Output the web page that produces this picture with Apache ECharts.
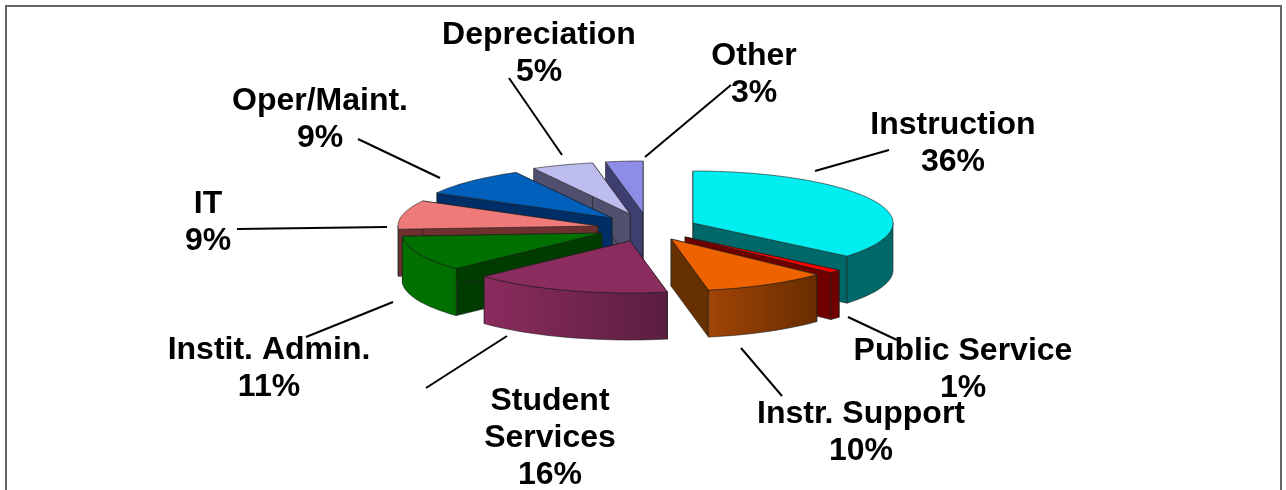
<!DOCTYPE html>
<html>
<head>
<meta charset="utf-8">
<title>Expense pie</title>
<script src="https://cdn.jsdelivr.net/npm/echarts@6/dist/echarts.min.js"></script>
<style>
  html, body { margin: 0; padding: 0; background: #fff; }
  #chart { width: 1286px; height: 490px; }
</style>
</head>
<body>
<div id="chart"></div>
<script>
const categories = ['Instruction', 'Public Service', 'Instr. Support', 'Student\nServices', 'Instit. Admin.', 'IT', 'Oper/Maint.', 'Depreciation', 'Other']
const shares = [36, 1, 10, 16, 11, 9, 9, 5, 3]

// where each exploded slice has its tip, back slices get painted first
const sliceTips = [[693, 223], [685, 237], [671, 239], [630, 241], [602, 233], [598, 226], [612, 218], [630, 214], [643, 213]]
const drawOrder = [8, 7, 6, 5, 4, 3, 0, 1, 2]

const topColors = ['#00eef0', '#ff0000', '#ee6300', '#8b2c5e', '#007000', '#ef7a7a', '#0060bb', '#bcbcee', '#8d8de8']
const wallColors = ['#006868', '#700000', '#663000', '#5a1e40', '#003c00', '#6f3030', '#002e66', '#50506e', '#3e3e70']
const rimColors = [
  ['#006868', '#006868'], ['#700000', '#700000'], ['#a04506', '#682c00'], ['#8b2c5e', '#5a1e40'],
  ['#007000', '#007000'], ['#6f3030', '#6f3030'], ['#002e66', '#002e66'], ['#50506e', '#50506e'], ['#3e3e70', '#3e3e70']
]

// centre of each label block, then the leader line next to it
const labelCenters = [[953, 144], [963, 370], [861, 433], [550, 438], [269, 369], [208, 223], [320, 120], [539, 54], [754, 75]]
const leaderLines = [
  [815, 171, 889, 150], [848, 317, 897, 340], [741, 348, 782, 396],
  [507, 336, 426, 388], [393, 302, 306, 337], [387, 227, 237, 229],
  [440, 178, 358, 139], [562, 155, 509, 78], [645, 157, 731, 85]
]

const TILT = 0.26
const DEPTH = 47
const EDGE = 'rgba(30, 30, 30, 0.6)'

let running = 0
const sliceRanges = shares.map((value) => {
  const range = [running, running + value]
  running += value
  return range
})

const renderSlice = (params, api) => {
  const start = api.value(1)
  const end = api.value(2)
  const idx = api.value(3)
  const tip = sliceTips[idx]
  const origin = api.coord([0, 0])

  const project = (share) => {
    const p = api.coord([1, share])
    return [tip[0] + p[0] - origin[0], tip[1] + (p[1] - origin[1]) * TILT]
  }
  const drop = (pt) => [pt[0], pt[1] + DEPTH]
  const arc = (from, to) => {
    const pts = []
    const steps = Math.max(2, Math.ceil((to - from) * 2))
    for (let i = 0; i <= steps; i++) pts.push(project(from + (to - from) * i / steps))
    return pts
  }
  const poly = (points, fill) => ({
    type: 'polygon',
    shape: { points },
    style: { fill, stroke: EDGE, lineWidth: 1 }
  })

  const children = []
  const a = project(start)
  const b = project(end)
  children.push(poly([tip, a, drop(a), drop(tip)], wallColors[idx]))
  children.push(poly([tip, b, drop(b), drop(tip)], wallColors[idx]))

  // only the front half of the rim faces the viewer
  const frontFrom = Math.max(start, 25)
  const frontTo = Math.min(end, 75)
  if (frontTo > frontFrom) {
    const rim = arc(frontFrom, frontTo)
    const gradient = new echarts.graphic.LinearGradient(0, 0, 1, 0, [
      { offset: 0, color: rimColors[idx][0] },
      { offset: 1, color: rimColors[idx][1] }
    ])
    children.push(poly(rim.concat(rim.map(drop).reverse()), gradient))
  }

  children.push(poly([tip].concat(arc(start, end)), topColors[idx]))
  return { type: 'group', children }
}

const labelGraphics = categories.map((name, i) => ({
  type: 'text',
  x: labelCenters[i][0],
  y: labelCenters[i][1],
  silent: true,
  style: {
    text: name + '\n' + shares[i] + '%',
    fontFamily: '"Liberation Sans", Arial, sans-serif',
    fontWeight: 'bold',
    fontSize: 32,
    lineHeight: 37,
    fill: '#000',
    align: 'center',
    verticalAlign: 'middle'
  }
}))

const leaderGraphics = leaderLines.map((line) => ({
  type: 'line',
  silent: true,
  shape: { x1: line[0], y1: line[1], x2: line[2], y2: line[3] },
  style: { stroke: '#000', lineWidth: 2 }
}))

const frameGraphic = {
  type: 'polyline',
  silent: true,
  shape: { points: [[6, 490], [6, 6], [1281, 6], [1281, 490]] },
  style: { stroke: '#666', lineWidth: 2, fill: null }
}

const chart = echarts.init(document.getElementById('chart'))
chart.setOption({
  animation: false,
  backgroundColor: '#fff',
  polar: { center: [643, 230], radius: 200 },
  angleAxis: { type: 'value', min: 0, max: 100, startAngle: 90, show: false },
  radiusAxis: { type: 'value', min: 0, max: 1, show: false },
  graphic: [frameGraphic].concat(leaderGraphics, labelGraphics),
  series: [
    {
      type: 'custom',
      coordinateSystem: 'polar',
      silent: true,
      renderItem: renderSlice,
      data: drawOrder.map((idx) => [1, sliceRanges[idx][0], sliceRanges[idx][1], idx])
    }
  ]
})
</script>
</body>
</html>
